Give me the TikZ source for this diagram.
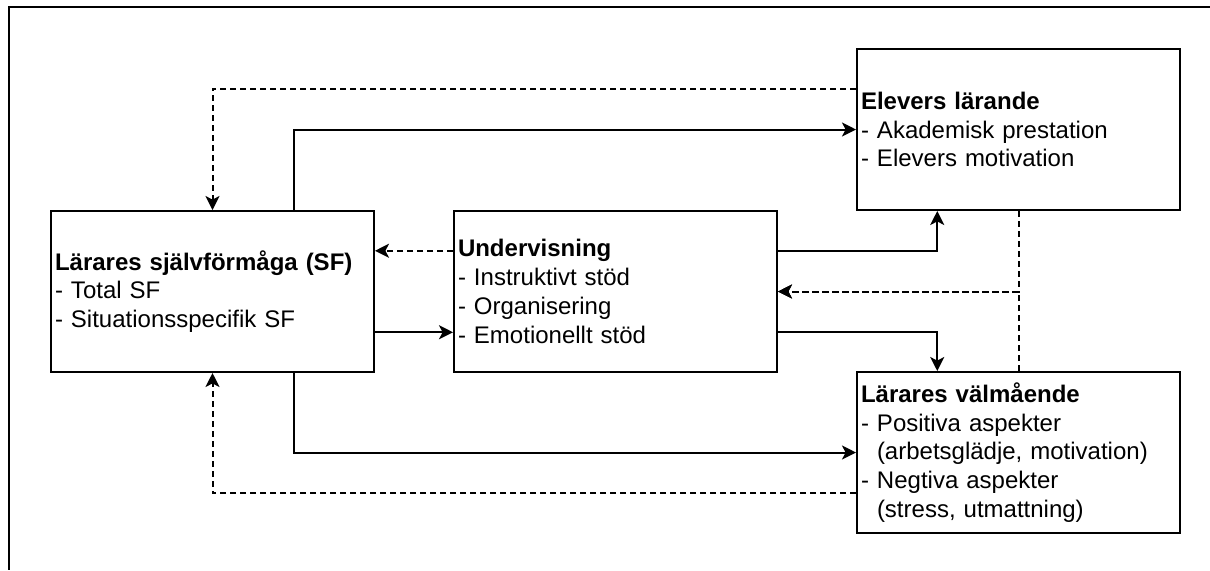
\documentclass[tikz,border=0pt]{standalone}
\usepackage{fontspec}
\setmainfont{Liberation Sans}
\usepackage{tikz}
\usetikzlibrary{arrows.meta}
\usetikzlibrary{calc}

\begin{document}
\begin{tikzpicture}[x=0.5pt,y=-0.5pt,
    box/.style={draw,line width=1pt,text width=157.5pt,inner xsep=2pt,
      minimum height=80.5pt,align=left,font=\fontsize{12}{14.4}\selectfont},
    sline/.style={line width=1pt,-{Stealth[length=7pt,width=7pt,inset=1.8pt]}},
    dline/.style={sline,dash pattern=on 3pt off 2pt}]
    \useasboundingbox (0,0) rectangle (1210,570);
    % frame
    \draw[line width=1pt] (1210,7) -- (9,7) -- (9,570);
    % boxes
    \node[box] (SF) at (212.5,291.5) {\textbf{Lärares självförmåga (SF)}\\- Total SF\\- Situationsspecifik SF};
    \node[box] (Under) at (615.5,291.5) {\textbf{Undervisning}\\- Instruktivt stöd\\- Organisering\\- Emotionellt stöd};
    \node[box] (Elev) at (1018.5,129.5) {\textbf{Elevers lärande}\\- Akademisk prestation\\- Elevers motivation};
    \node[box] (Val) at (1018.5,452.5) {\textbf{Lärares välmående}\\- Positiva aspekter\\\phantom{-}\ (arbetsglädje, motivation)\\- Negtiva aspekter\\\phantom{-}\ (stress, utmattning)};
    % anchor points on the box sides
    \coordinate (SFn) at ($(SF.north west)!.75!(SF.north east)$);
    \coordinate (SFs) at ($(SF.south west)!.75!(SF.south east)$);
    \coordinate (Uw1) at ($(Under.north west)!.25!(Under.south west)$);
    \coordinate (Uw3) at ($(Under.north west)!.75!(Under.south west)$);
    \coordinate (Ue1) at ($(Under.north east)!.25!(Under.south east)$);
    \coordinate (Ue3) at ($(Under.north east)!.75!(Under.south east)$);
    \coordinate (Ew1) at ($(Elev.north west)!.25!(Elev.south west)$);
    \coordinate (Es1) at ($(Elev.south west)!.25!(Elev.south east)$);
    \coordinate (Vn1) at ($(Val.north west)!.25!(Val.north east)$);
    \coordinate (Vw3) at ($(Val.north west)!.75!(Val.south west)$);
    % connectors
    \draw[dline] (Ew1) -| (SF.north);
    \draw[sline] (SFn) |- (Elev.west);
    \draw[dline] (Uw1) -- (SF.east |- Uw1);
    \draw[sline] (SF.east |- Uw3) -- (Uw3);
    \draw[sline] (Ue1) -| (Es1);
    \draw[sline] (Ue3) -| (Vn1);
    \draw[dline] (Elev.south) |- (Under.east);
    \draw[dline] (Val.north) |- (Under.east);
    \draw[sline] (SFs) |- (Val.west);
    \draw[dline] (Vw3) -| (SF.south);
\end{tikzpicture}
\end{document}
